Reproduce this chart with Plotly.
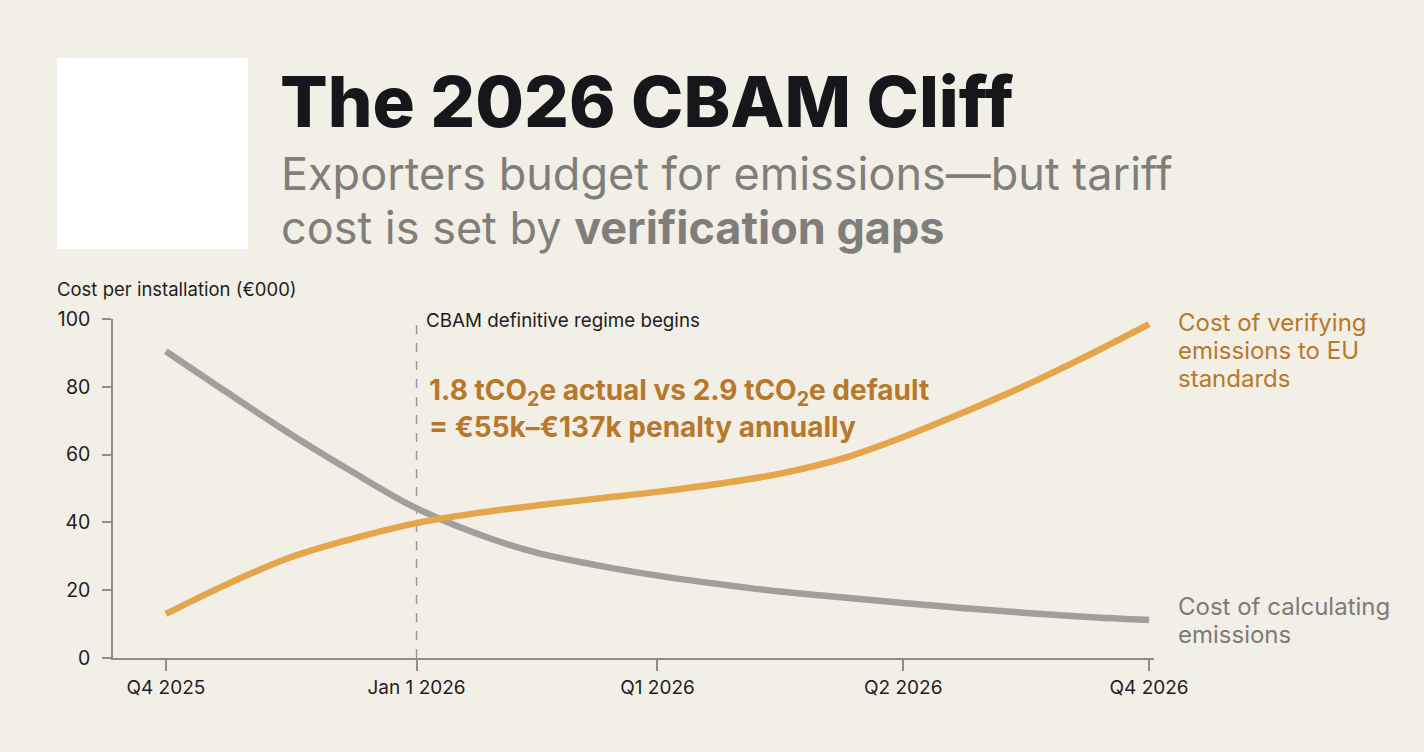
import plotly.graph_objects as go

# ---------------- data ----------------
PERIOD_LABELS = ["Q4 2025", "Jan 1 2026", "Q1 2026", "Q2 2026", "Q4 2026"]
PERIOD_POS = [0, 1.02, 2, 3, 4]

CURVE_X = [0, 0.25, 0.5, 0.75, 1.0, 1.25, 1.5, 1.75, 2.0,
           2.25, 2.5, 2.75, 3.0, 3.25, 3.5, 3.75, 4.0]
CALC_Y = [90.5, 78.3, 66.4, 55.3, 44.9, 37.1, 31.2, 27.4, 24.3,
          21.8, 19.6, 17.9, 16.2, 14.7, 13.3, 12.1, 11.2]
VERIFY_Y = [13.0, 21.8, 29.5, 35.0, 39.5, 42.6, 44.9, 47.0, 49.0,
            51.4, 54.4, 58.8, 65.2, 72.6, 80.5, 89.2, 98.5]

Y_TICKS = [0, 20, 40, 60, 80, 100]
REGIME_START = 1.02

TITLE = "The 2026 CBAM Cliff"
SUBTITLE_LINES = ["Exporters budget for emissions\u2014but tariff",
                  "cost is set by <b>verification gaps</b>"]
Y_TITLE = "Cost per installation (\u20ac000)"
REGIME_LABEL = "CBAM definitive regime begins"
PENALTY_LINES = ["1.8 tCO<sub>2</sub>e actual vs 2.9 tCO<sub>2</sub>e default",
                 "= \u20ac55k\u2013\u20ac137k penalty annually"]
VERIFY_LABEL_LINES = ["Cost of verifying", "emissions to EU", "standards"]
CALC_LABEL_LINES = ["Cost of calculating", "emissions"]

# ---------------- style ----------------
W, H = 1424, 752
BG = "#F2EFE6"
ORANGE = "#E4A54B"
ORANGE_TXT = "#B8782B"
GREY = "#A19F9B"
GREY_TXT = "#7C7B79"
INK = "#1E1E1E"
FONT = "Inter"

ML, MR, MT, MB = 113, 270, 319, 94
PW, PH = W - ML - MR, H - MT - MB


def px(x):
    return (x - ML) / PW


def py(y):
    return (H - MB - y) / PH


def text_line(text, x_left, baseline, size, color, weight=400):
    # place a single text line so that its baseline lands at the given pixel row
    return dict(text=text, xref="paper", yref="paper", x=px(x_left),
                y=py(baseline - 0.38 * size), xanchor="left", yanchor="middle",
                showarrow=False, align="left",
                font=dict(family=FONT, size=size, color=color, weight=weight))


fig = go.Figure()
fig.add_trace(go.Scatter(x=CURVE_X, y=CALC_Y, mode="lines",
                         line=dict(color=GREY, width=6.5, shape="spline", smoothing=1),
                         hoverinfo="skip", showlegend=False))
fig.add_trace(go.Scatter(x=CURVE_X, y=VERIFY_Y, mode="lines",
                         line=dict(color=ORANGE, width=6.5, shape="spline", smoothing=1),
                         hoverinfo="skip", showlegend=False))

# dashed regime line
fig.add_shape(type="line", xref="x", yref="y", x0=REGIME_START, x1=REGIME_START,
              y0=0, y1=102.8, line=dict(color="#9C9A96", width=1.5, dash="dash"), layer="below")

# white box top-left
fig.add_shape(type="rect", xref="paper", yref="paper",
              x0=px(57), x1=px(248), y0=py(249), y1=py(58),
              fillcolor="#FFFFFF", line=dict(width=0))

ann = []
ann.append(text_line(TITLE, 278, 128, 70.5, "#15171A", 800))
for txt, base in zip(SUBTITLE_LINES, [191, 245]):
    ann.append(text_line(txt, 279, base, 45, "#7F7E7B"))
ann.append(text_line(Y_TITLE, 55, 296, 18.5, INK))
ann.append(text_line(REGIME_LABEL, 424, 328, 18.8, INK))
for txt, base in zip(PENALTY_LINES, [403, 438]):
    ann.append(text_line(txt, 427, base, 28, ORANGE_TXT, 700))
for txt, base in zip(VERIFY_LABEL_LINES, [332, 360, 388]):
    ann.append(text_line(txt, 1176, base, 24, ORANGE_TXT))
for txt, base in zip(CALC_LABEL_LINES, [616, 644]):
    ann.append(text_line(txt, 1176, base, 24, GREY_TXT))

fig.update_layout(
    width=W, height=H,
    margin=dict(l=ML, r=MR, t=MT, b=MB, pad=0),
    paper_bgcolor=BG, plot_bgcolor=BG,
    font=dict(family=FONT, color=INK),
    annotations=ann,
    showlegend=False,
)
fig.update_xaxes(range=[-0.215, 4.02], tickvals=PERIOD_POS, ticktext=PERIOD_LABELS,
                 showgrid=False, zeroline=False, showline=True, linecolor="#8F8E8B",
                 linewidth=1.5, ticks="outside", ticklen=11, tickwidth=1.5,
                 tickcolor="#8F8E8B", tickfont=dict(family=FONT, size=19, color=INK),
                 ticklabelstandoff=0)
fig.update_yaxes(range=[0, 100], tickvals=Y_TICKS, showgrid=False, zeroline=False,
                 showline=True, linecolor="#8F8E8B", linewidth=1.5, ticks="outside",
                 ticklen=9, tickwidth=1.5, tickcolor="#8F8E8B",
                 tickfont=dict(family=FONT, size=19.5, color=INK), ticklabelstandoff=8)

fig.write_html("out.html", config={"displayModeBar": False},
               post_script="document.body.style.margin='0';document.body.style.background='%s';" % BG)
